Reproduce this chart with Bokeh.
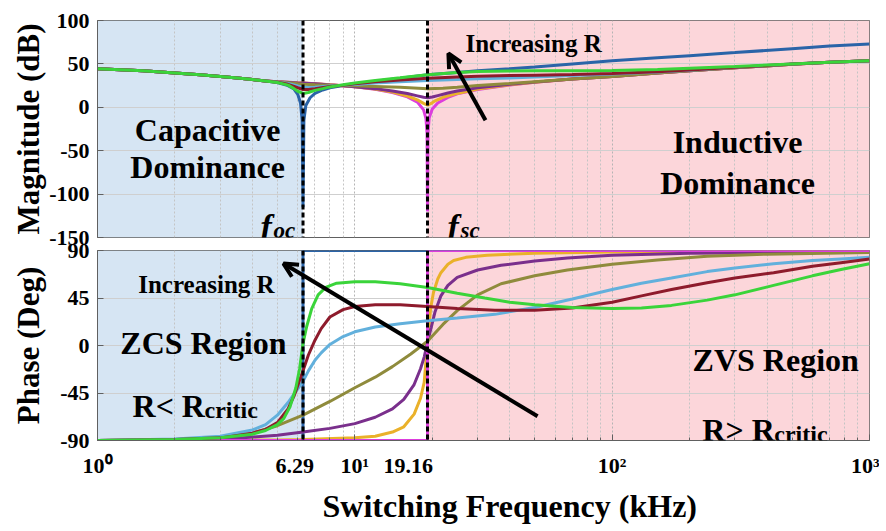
from bokeh.plotting import figure
from bokeh.layouts import column
from bokeh.models import Span, Label, Arrow, OpenHead, FixedTicker, Range1d, Title
from bokeh.embed import file_html
from bokeh.resources import INLINE

# ---------------- data ----------------
F_OC = 6.29
F_SC = 19.16
X_MIN, X_MAX = 1, 1000
MAG_MIN, MAG_MAX = -150, 100
PH_MIN, PH_MAX = -90, 90

X_TICKS = [1, 6.29, 10, 19.16, 100, 1000]
X_TICK_LABELS = ["10\u2070", "6.29\u00a0\u00a0\u00a0", "10\u00b9", "19.16" + "\u00a0" * 7, "10\u00b2", "10\u00b3"]
X_GRID = [1, 10, 100, 1000]
X_MINOR = [2, 3, 4, 5, 6, 7, 8, 9, 20, 30, 40, 50, 60, 70, 80, 90, 200, 300, 400, 500, 600, 700, 800, 900]
MAG_TICKS = [-150, -100, -50, 0, 50, 100]
MAG_TICK_LABELS = ["-150", "-100", "-50", "0", "50", "100"]
PH_TICKS = [-90, -45, 0, 45, 90]
PH_TICK_LABELS = ["-90", "-45", "0", "45", "90"]

# shared low-frequency part of all magnitude curves
low_f = [1, 1.5, 2, 2.5, 3, 3.5, 4, 4.5]
low_db = [44.5, 42, 39.5, 37.5, 35.5, 33.8, 32, 30.4]

mag_blue_f = [5, 5.5, 5.8, 6.0, 6.15, 6.24, 6.29, 6.34, 6.45, 6.7, 7, 7.5, 8, 9, 10, 12, 15, 19.16, 25, 30, 40, 50, 70, 100, 150, 200, 300, 500, 700, 1000]
mag_blue_db = [28.5, 25, 21, 15, 5, -15, -115, -15, 2, 11, 16, 20, 22.5, 25, 27, 30, 33.5, 37.5, 40, 42, 44.5, 46.5, 50, 53.5, 57, 59.5, 63, 67.5, 70.5, 73]

mag_green_f = [5, 5.5, 5.8, 6.0, 6.29, 6.6, 7, 7.5, 8, 9, 10, 12, 15, 19.16, 25, 30, 40, 50, 70, 100, 150, 200, 300, 500, 700, 1000]
mag_green_db = [28.5, 25.5, 21.5, 18.5, 16, 17, 19.5, 21.5, 23.5, 26, 28, 31, 34, 37.5, 40, 41.3, 41.8, 42, 42, 42.3, 43.5, 45, 47, 50, 51.8, 53.5]

mag_red_f = [5, 5.5, 6, 6.29, 6.6, 7, 8, 9, 10, 12, 15, 19.16, 25, 30, 40, 50, 70, 100, 150, 200, 300, 500, 700, 1000]
mag_red_db = [28.8, 26.5, 22.5, 20.5, 20.5, 21.5, 24, 25.5, 27, 29.5, 31.5, 33.5, 35, 35.8, 36.5, 37, 37.8, 39, 41, 43, 46, 49.8, 51.8, 53.5]

mag_lblue_f = [5, 5.5, 6, 6.29, 6.6, 7, 8, 9, 10, 12, 15, 19.16, 25, 30, 40, 50, 70, 100, 150, 200, 300, 500, 700, 1000]
mag_lblue_db = [29, 27.5, 24.5, 23, 22.8, 23.2, 24.5, 25.3, 26.3, 28, 29.5, 31, 32, 32.8, 33.8, 35, 36.5, 38.5, 40.8, 42.8, 46, 49.8, 51.8, 53.5]

mag_olive_f = [5, 5.5, 6, 6.29, 7, 8, 9, 10, 12, 15, 19.16, 22, 25, 30, 40, 50, 70, 100, 150, 200, 300, 500, 700, 1000]
mag_olive_db = [29.2, 28.3, 27, 26.5, 26, 25.5, 25.2, 24.8, 24, 23, 21.5, 22, 23, 25, 27.5, 29.5, 32.5, 35.5, 39.5, 42, 45.5, 49.5, 51.8, 53.5]

mag_purple_f = [5, 6, 6.29, 7, 8, 9, 10, 12, 14, 16, 17.5, 18.5, 19.16, 20, 21, 23, 25, 30, 40, 50, 70, 100, 150, 200, 300, 500, 700, 1000]
mag_purple_db = [29.3, 28, 27.8, 27, 25.8, 24.8, 23.8, 21.5, 18.8, 15.8, 13.2, 11.5, 11, 11.8, 13.5, 16.5, 18.8, 22.5, 26.5, 29, 32.5, 35.5, 39.5, 42, 45.5, 49.5, 51.8, 53.5]

mag_yellow_f = [5, 6, 6.29, 7, 8, 9, 10, 12, 14, 16, 17.5, 18.5, 19.16, 19.8, 20.5, 22, 25, 30, 40, 50, 70, 100, 150, 200, 300, 500, 700, 1000]
mag_yellow_db = [29.4, 28.2, 28, 27.2, 26, 24.8, 23.8, 21, 17.5, 13, 8.5, 4.5, 2.5, 4.5, 7.5, 11.5, 16, 21, 26, 28.8, 32.5, 35.5, 39.5, 42, 45.5, 49.5, 51.8, 53.5]

mag_magenta_f = [5, 6, 6.29, 7, 8, 9, 10, 12, 14, 16, 17.5, 18.5, 18.9, 19.08, 19.16, 19.24, 19.45, 20, 21, 23, 25, 30, 40, 50, 70, 100, 150, 200, 300, 500, 700, 1000]
mag_magenta_db = [29.4, 28.2, 28, 27.2, 26, 24.8, 23.8, 20.8, 17, 12, 6, -3, -13, -30, -120, -30, -12, -2, 5, 11.5, 15.5, 20.5, 25.8, 28.8, 32.5, 35.5, 39.5, 42, 45.5, 49.5, 51.8, 53.5]

ph_blue_f = [1, 6.29, 6.29, 1000]
ph_blue_deg = [-90, -90, 90, 90]

ph_magenta_f = [1, 19.16, 19.16, 1000]
ph_magenta_deg = [-90, -90, 90, 90]

ph_green_f = [1, 2, 3, 4, 4.5, 5, 5.3, 5.6, 5.9, 6.1, 6.29, 6.5, 6.8, 7.2, 7.7, 8.5, 10, 12, 15, 19.16, 25, 32, 40, 50, 70, 100, 130, 170, 234, 300, 424, 600, 775, 1000]
ph_green_deg = [-90, -89, -87.5, -84, -80.5, -75, -69, -58, -40, -22, 2, 18, 35, 48, 55, 59, 60.5, 60.5, 58.5, 55, 49.5, 45, 41, 38.5, 36, 35, 35.5, 38, 43, 48, 57, 66, 72, 77.5]

ph_red_f = [1, 2, 3, 4, 4.5, 5, 5.5, 5.8, 6.0, 6.29, 6.6, 7, 7.4, 8, 9, 10, 12, 15, 19.16, 25, 35, 50, 70, 100, 130, 170, 234, 300, 424, 600, 775, 1000]
ph_red_deg = [-90, -89, -87.5, -83, -79.5, -73, -60, -48, -38, -24, -9, 5, 16, 27, 34, 37, 38.5, 38.5, 37, 35, 33.5, 33.5, 35.5, 41, 47, 53, 59.5, 64, 69, 75, 78.5, 82]

ph_lblue_f = [1, 2, 3, 4, 4.5, 5, 5.5, 5.8, 6.0, 6.29, 6.6, 7, 7.4, 8, 9, 10, 12, 15, 19.16, 25, 35, 50, 70, 100, 130, 170, 234, 300, 424, 600, 775, 1000]
ph_lblue_deg = [-90, -88.5, -86, -80, -75, -66, -54, -46, -41, -34, -24, -14, -7, 1, 8.5, 13, 17.5, 20.5, 23.4, 26, 29.5, 36, 44, 53, 59, 64, 70, 73.5, 77.5, 80.5, 82, 83.5]

ph_olive_f = [1, 2, 3, 4, 5, 6.29, 8, 10, 12, 14, 16.5, 19.16, 22, 25, 30, 37, 50, 67, 100, 150, 234, 400, 1000]
ph_olive_deg = [-90, -89, -87.5, -83, -76, -66, -53, -40, -30, -20, -8, 4, 20, 33, 48, 58.5, 66, 71.5, 77, 81, 84.5, 86.5, 88]

ph_purple_f = [1, 3, 5, 6.29, 8, 10, 12, 14, 15.5, 17, 18, 18.6, 19.16, 19.8, 20.5, 21.6, 23, 25, 30, 37, 50, 67, 100, 200, 1000]
ph_purple_deg = [-90, -89, -85, -82, -78.5, -74, -68, -60, -51, -37, -22, -11, 3, 17, 32, 47, 57, 64.5, 71.5, 76, 80, 83, 85.5, 87.5, 88.5]

ph_yellow_f = [1, 5, 6.29, 10, 12, 14, 15.5, 17, 18, 18.6, 19.16, 19.7, 20.2, 21, 21.6, 23, 24.2, 27, 32.7, 50, 100, 1000]
ph_yellow_deg = [-90, -89.5, -89, -87.5, -86, -82, -77, -65, -50, -35, 3, 35, 50, 63, 69, 77, 80.5, 83.5, 85.5, 87.5, 88.5, 89]

# ---------------- styling ----------------
C_BLUE = "#2a64a8"
C_GREEN = "#3ad43a"
C_RED = "#8e1b2c"
C_LBLUE = "#62b0dc"
C_OLIVE = "#8f8b3c"
C_PURPLE = "#7a2f8c"
C_YELLOW = "#eab12a"
C_MAGENTA = "#dd3ddd"
SHADE_L = "#d6e5f3"
SHADE_R = "#fcd6da"
FONT = "Liberation Serif"

mag_series = [
    (mag_blue_f, mag_blue_db, C_BLUE),
    (mag_magenta_f, mag_magenta_db, C_MAGENTA),
    (mag_yellow_f, mag_yellow_db, C_YELLOW),
    (mag_purple_f, mag_purple_db, C_PURPLE),
    (mag_olive_f, mag_olive_db, C_OLIVE),
    (mag_lblue_f, mag_lblue_db, C_LBLUE),
    (mag_red_f, mag_red_db, C_RED),
    (mag_green_f, mag_green_db, C_GREEN),
]
ph_series = [
    (ph_blue_f, ph_blue_deg, C_BLUE),
    (ph_yellow_f, ph_yellow_deg, C_YELLOW),
    (ph_purple_f, ph_purple_deg, C_PURPLE),
    (ph_olive_f, ph_olive_deg, C_OLIVE),
    (ph_magenta_f, ph_magenta_deg, C_MAGENTA),
    (ph_lblue_f, ph_lblue_deg, C_LBLUE),
    (ph_red_f, ph_red_deg, C_RED),
    (ph_green_f, ph_green_deg, C_GREEN),
]

W = 879
xr = Range1d(X_MIN, X_MAX)


def style_panel(p, yticks, ylabels):
    p.background_fill_color = "white"
    p.outline_line_color = "#606060"
    p.outline_line_width = 1
    p.xgrid.ticker = FixedTicker(ticks=X_GRID, minor_ticks=X_MINOR)
    p.xgrid.grid_line_color = "#b4b4b4"
    p.xgrid.grid_line_dash = "2 2"
    p.xgrid.minor_grid_line_color = "#c4c4c4"
    p.xgrid.minor_grid_line_dash = "2 2"
    p.ygrid.grid_line_color = "#cfcfcf"
    yax = p.yaxis[0]
    yax.ticker = FixedTicker(ticks=yticks)
    yax.major_label_overrides = {t: l for t, l in zip(yticks, ylabels)}
    yax.major_tick_in = 6
    yax.major_tick_out = 0
    yax.minor_tick_line_color = None
    yax.axis_line_color = "#606060"
    yax.major_tick_line_color = "#606060"
    yax.major_label_text_font = FONT
    yax.major_label_text_font_style = "bold"
    yax.major_label_text_font_size = "22px"
    yax.major_label_text_color = "black"
    yax.major_label_standoff = 8
    yax.axis_label_text_font = FONT
    yax.axis_label_text_font_style = "bold"
    yax.axis_label_text_font_size = "31px"
    yax.axis_label_text_color = "black"


def shade(p, ylo, yhi):
    p.quad(left=[X_MIN], right=[F_OC], bottom=[ylo], top=[yhi], fill_color=SHADE_L, line_color=None, level="image")
    p.quad(left=[F_SC], right=[X_MAX], bottom=[ylo], top=[yhi], fill_color=SHADE_R, line_color=None, level="image")


def spans(p):
    for loc in (F_OC, F_SC):
        p.add_layout(Span(location=loc, dimension="height", line_color="black", line_width=3, line_dash="5 3", level="overlay"))


# ---------------- magnitude panel ----------------
p1 = figure(width=W, height=251, x_axis_type="log", x_range=xr, y_range=Range1d(MAG_MIN, MAG_MAX),
            x_axis_location=None, output_backend="svg", toolbar_location=None,
            min_border_left=97, min_border_right=10, min_border_top=20, min_border_bottom=14)
p1.border_fill_color = "white"
style_panel(p1, MAG_TICKS, MAG_TICK_LABELS)
p1.yaxis[0].axis_label = "Magnitude (dB)"
p1.yaxis[0].axis_label_standoff = 0
shade(p1, MAG_MIN, MAG_MAX)
for f, v, c in mag_series:
    fx = (low_f + f) if f[0] > 4.5 else f
    vy = (low_db + v) if f[0] > 4.5 else v
    p1.line(fx, vy, line_color=c, line_width=3)
spans(p1)

txt = dict(text_font=FONT, text_font_style="bold", text_color="black")
p1.add_layout(Label(x=2.68, y=-26, text="Capacitive", text_align="center", text_baseline="middle", text_font_size="32px", **txt))
p1.add_layout(Label(x=2.68, y=-69, text="Dominance", text_align="center", text_baseline="middle", text_font_size="32px", **txt))
p1.add_layout(Label(x=307, y=-40, text="Inductive", text_align="center", text_baseline="middle", text_font_size="32px", **txt))
p1.add_layout(Label(x=307, y=-87, text="Dominance", text_align="center", text_baseline="middle", text_font_size="32px", **txt))
p1.add_layout(Label(x=49.5, y=73, text="Increasing R", text_align="center", text_baseline="middle", text_font_size="25px", **txt))
p1.add_layout(Arrow(end=OpenHead(line_width=4, size=14, line_color="black"), x_start=32.2, y_start=-15, x_end=23.1, y_end=62,
                    line_width=4, line_color="black"))
ital = dict(text_font=FONT, text_font_style="bold italic", text_color="black")
p1.add_layout(Label(x=4.3, y=-137, text="f", text_align="left", text_baseline="alphabetic", text_font_size="34px", **ital))
p1.add_layout(Label(x=4.3, y=-142, x_offset=13, text="oc", text_align="left", text_baseline="alphabetic", text_font_size="23px", **ital))
p1.add_layout(Label(x=22.9, y=-137, text="f", text_align="left", text_baseline="alphabetic", text_font_size="34px", **ital))
p1.add_layout(Label(x=22.9, y=-142, x_offset=13, text="sc", text_align="left", text_baseline="alphabetic", text_font_size="23px", **ital))

# ---------------- phase panel ----------------
p2 = figure(width=W, height=291, x_axis_type="log", x_range=xr, y_range=Range1d(PH_MIN, PH_MAX),
            output_backend="svg", toolbar_location=None,
            min_border_left=97, min_border_right=10, min_border_top=13, min_border_bottom=88)
p2.border_fill_color = None
p2.margin = (-14, 0, 0, 0)
style_panel(p2, PH_TICKS, PH_TICK_LABELS)
p2.yaxis[0].axis_label = "Phase (Deg)"
p2.yaxis[0].axis_label_standoff = 11
xax = p2.xaxis[0]
xax.ticker = FixedTicker(ticks=X_TICKS, minor_ticks=X_MINOR)
xax.major_label_overrides = {t: l for t, l in zip(X_TICKS, X_TICK_LABELS)}
xax.major_tick_in = 6
xax.major_tick_out = 0
xax.minor_tick_in = 3
xax.minor_tick_out = 0
xax.axis_line_color = "#606060"
xax.major_tick_line_color = "#606060"
xax.minor_tick_line_color = "#606060"
xax.major_label_text_font = FONT
xax.major_label_text_font_style = "bold"
xax.major_label_text_font_size = "22px"
xax.major_label_text_color = "black"
xax.major_label_standoff = 12
p2.add_layout(Title(text="Switching Frequency (kHz)", align="left", offset=225, standoff=10,
                    text_font=FONT, text_font_style="bold", text_font_size="32px", text_color="black"), "below")
shade(p2, PH_MIN, PH_MAX)
for f, v, c in ph_series:
    p2.line(f, v, line_color=c, line_width=3)
spans(p2)

p2.add_layout(Label(x=2.65, y=58, text="Increasing R", text_align="center", text_baseline="middle", text_font_size="25px", **txt))
p2.add_layout(Label(x=2.58, y=2, text="ZCS Region", text_align="center", text_baseline="middle", text_font_size="32px", **txt))
p2.add_layout(Label(x=1.368, y=-57.6, text="R< R", text_align="left", text_baseline="alphabetic", text_font_size="32px", **txt))
p2.add_layout(Label(x=1.368, y=-61, x_offset=72, text="critic", text_align="left", text_baseline="alphabetic", text_font_size="24px", **txt))
p2.add_layout(Label(x=432, y=-14, text="ZVS Region", text_align="center", text_baseline="middle", text_font_size="32px", **txt))
p2.add_layout(Label(x=224, y=-80, text="R> R", text_align="left", text_baseline="alphabetic", text_font_size="32px", **txt))
p2.add_layout(Label(x=224, y=-84, x_offset=72, text="critic", text_align="left", text_baseline="alphabetic", text_font_size="24px", **txt))
p2.add_layout(Arrow(end=OpenHead(line_width=4, size=14, line_color="black"), x_start=51.3, y_start=-67, x_end=5.28, y_end=77.6,
                    line_width=4, line_color="black"))

layout = column(p1, p2)
open("out.html", "w").write(file_html(layout, INLINE))
